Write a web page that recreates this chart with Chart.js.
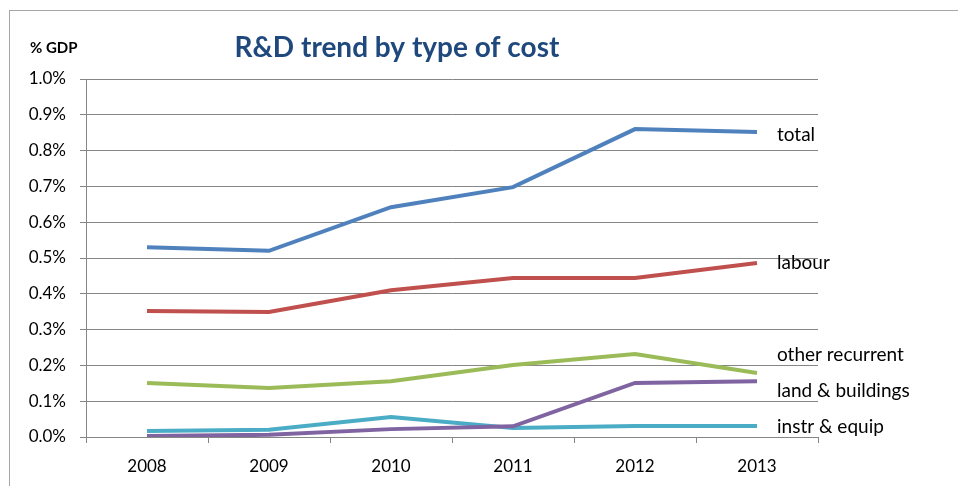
<!DOCTYPE html>
<html>
<head>
<meta charset="utf-8">
<script src="https://cdn.jsdelivr.net/npm/chart.js@4"></script>
<style>
  html, body { margin: 0; padding: 0; background: #fff; }
  #wrap { position: relative; width: 958px; height: 486px; overflow: hidden; }
  #frame { position: absolute; left: 9px; top: 10px; width: 1000px; height: 600px; border: 1px solid #a6a6a6; }
  canvas { position: absolute; left: 0; top: 0; }
</style>
</head>
<body>
<div id="wrap">
  <div id="frame"></div>
  <canvas id="chart" width="958" height="486"></canvas>
</div>
<script>
"use strict";

var years = ["2008", "2009", "2010", "2011", "2012", "2013"];

var total = [0.53, 0.52, 0.642, 0.698, 0.86, 0.852];
var labour = [0.352, 0.349, 0.41, 0.444, 0.444, 0.486];
var otherRecurrent = [0.151, 0.137, 0.156, 0.201, 0.232, 0.179];
var landBuildings = [0.003, 0.006, 0.022, 0.03, 0.151, 0.156];
var instrEquip = [0.017, 0.02, 0.056, 0.025, 0.031, 0.031];

var FONT = "Lato, 'Open Sans', sans-serif";

function line(label, data, color, labelDy) {
    return {
        label: label,
        data: data,
        borderColor: color,
        backgroundColor: color,
        borderWidth: 4,
        pointRadius: 0,
        tension: 0,
        labelDy: labelDy,
    };
}

// text next to the last point of every line, plus the title and unit
var endLabels = {
    id: "endLabels",
    afterDraw: function (chart) {
        var ctx = chart.ctx;
        ctx.save();
        ctx.fillStyle = "#000";
        ctx.font = "19px " + FONT;
        ctx.textBaseline = "middle";
        ctx.textAlign = "left";
        chart.data.datasets.forEach(function (ds, i) {
            var pts = chart.getDatasetMeta(i).data;
            var p = pts[pts.length - 1];
            ctx.fillText(ds.label, p.x + 20, p.y + ds.labelDy);
        });

        ctx.fillStyle = "#1f497d";
        ctx.font = "bold 28px " + FONT;
        ctx.textAlign = "center";
        ctx.fillText("R&D trend by type of cost", 397, 48);

        ctx.fillStyle = "#000";
        ctx.font = "bold 15px " + FONT;
        ctx.textAlign = "left";
        ctx.fillText("% GDP", 30, 48);
        ctx.restore();
    }
};

var ctx = document.getElementById("chart").getContext("2d");

var myChart = new Chart(ctx, {
    type: "line",
    data: {
        labels: years,
        datasets: [
            line("total", total, "#4f81bd", 3),
            line("labour", labour, "#c0504d", 0),
            line("other recurrent", otherRecurrent, "#9bbb59", -18),
            line("land & buildings", landBuildings, "#8064a2", 10),
            line("instr & equip", instrEquip, "#4bacc6", 1),
        ],
    },
    options: {
        responsive: false,
        animation: false,
        layout: {
            padding: { left: 0, right: 140, top: 79, bottom: 0 }
        },
        plugins: {
            legend: { display: false },
            title: { display: false },
            tooltip: { enabled: false },
        },
        scales: {
            x: {
                offset: true,
                grid: {
                    offset: true,
                    drawOnChartArea: false,
                    tickLength: 6,
                    color: "#868686",
                },
                border: { color: "#868686", width: 1 },
                ticks: {
                    padding: 13,
                    color: "#000",
                    font: { family: FONT, size: 17 },
                },
                afterFit: function (scale) { scale.height = 49; },
            },
            y: {
                min: 0,
                max: 1.0,
                ticks: {
                    stepSize: 0.1,
                    padding: 14,
                    color: "#000",
                    font: { family: FONT, size: 17 },
                    callback: function (v) { return v.toFixed(1) + "%"; },
                },
                grid: {
                    color: "#868686",
                    tickLength: 6,
                },
                border: { color: "#868686", width: 1 },
                afterFit: function (scale) { scale.width = 86; },
            },
        },
    },
    plugins: [endLabels],
});
</script>
</body>
</html>
